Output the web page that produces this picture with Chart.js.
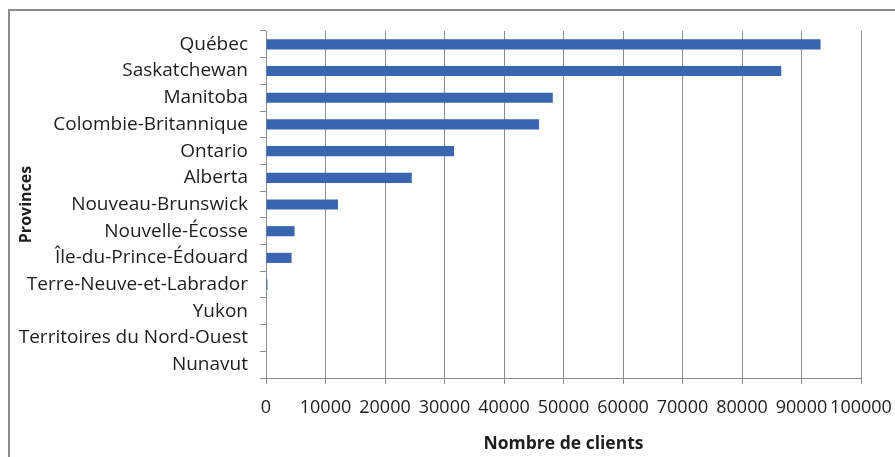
<!DOCTYPE html>
<html>
<head>
<meta charset="utf-8">
<script src="https://cdn.jsdelivr.net/npm/chart.js@4"></script>
<style>
  body { margin: 0; background: #fff; overflow: hidden; }
  #frame { position: absolute; left: 8px; top: 9px; width: 1000px; height: 1000px; border: 2px solid #8c8c8c; }
  #wrap { position: absolute; left: 0; top: 0; width: 895px; height: 457px; }
</style>
</head>
<body>
<div id="frame"></div>
<div id="wrap"><canvas id="chart"></canvas></div>
<script>
const provinces = ['Québec', 'Saskatchewan', 'Manitoba', 'Colombie-Britannique', 'Ontario', 'Alberta',
  'Nouveau-Brunswick', 'Nouvelle-Écosse', 'Île-du-Prince-Édouard', 'Terre-Neuve-et-Labrador',
  'Yukon', 'Territoires du Nord-Ouest', 'Nunavut'];
const clients = [93200, 86600, 48200, 45900, 31600, 24500, 12100, 4800, 4300, 250, 0, 0, 0];
const xTicks = [0, 10000, 20000, 30000, 40000, 50000, 60000, 70000, 80000, 90000, 100000];

const fram = document.getElementById('chart');
const gray = '#8c8c8c';
const txt = '#1e1e1e';
const fam = "'Open Sans', sans-serif";

new Chart(fram, {
  type: 'bar',
  data: {
    labels: provinces,
    datasets: [{
      data: clients,
      backgroundColor: '#3a65b0',
      barPercentage: 0.38,
      categoryPercentage: 1
    }]
  },
  options: {
    indexAxis: 'y',
    responsive: true,
    maintainAspectRatio: false,
    animation: false,
    layout: { padding: { top: 31, right: 34, left: 0, bottom: 0 } },
    plugins: { legend: { display: false }, tooltip: { enabled: false } },
    scales: {
      x: {
        min: 0,
        max: 100000,
        afterBuildTicks: (s) => { s.ticks = xTicks.map(v => ({ value: v })); },
        afterFit: (s) => { s.height = 79; s.paddingLeft = 0; s.paddingRight = 0; },
        grid: { color: gray, tickLength: 6, tickColor: gray },
        border: { color: gray },
        ticks: {
          autoSkip: false, maxRotation: 0, padding: 13, color: txt,
          font: { family: fam, size: 18 },
          callback: (v) => String(v)
        },
        title: {
          display: true, text: 'Nombre de clients', color: txt,
          font: { family: fam, size: 17.5, weight: 'bold' },
          padding: { top: 0, bottom: 2 }
        }
      },
      y: {
        offset: true,
        afterFit: (s) => { s.width = 266; },
        grid: { offset: true, drawOnChartArea: false, tickLength: 6, color: gray },
        border: { color: gray },
        ticks: { padding: 12, color: txt, font: { family: fam, size: 19 } },
        title: {
          display: true, text: 'Provinces', color: txt,
          font: { family: fam, size: 16, weight: 'bold' },
          padding: { top: 17, bottom: 0 }
        }
      }
    }
  }
});
</script>
</body>
</html>
